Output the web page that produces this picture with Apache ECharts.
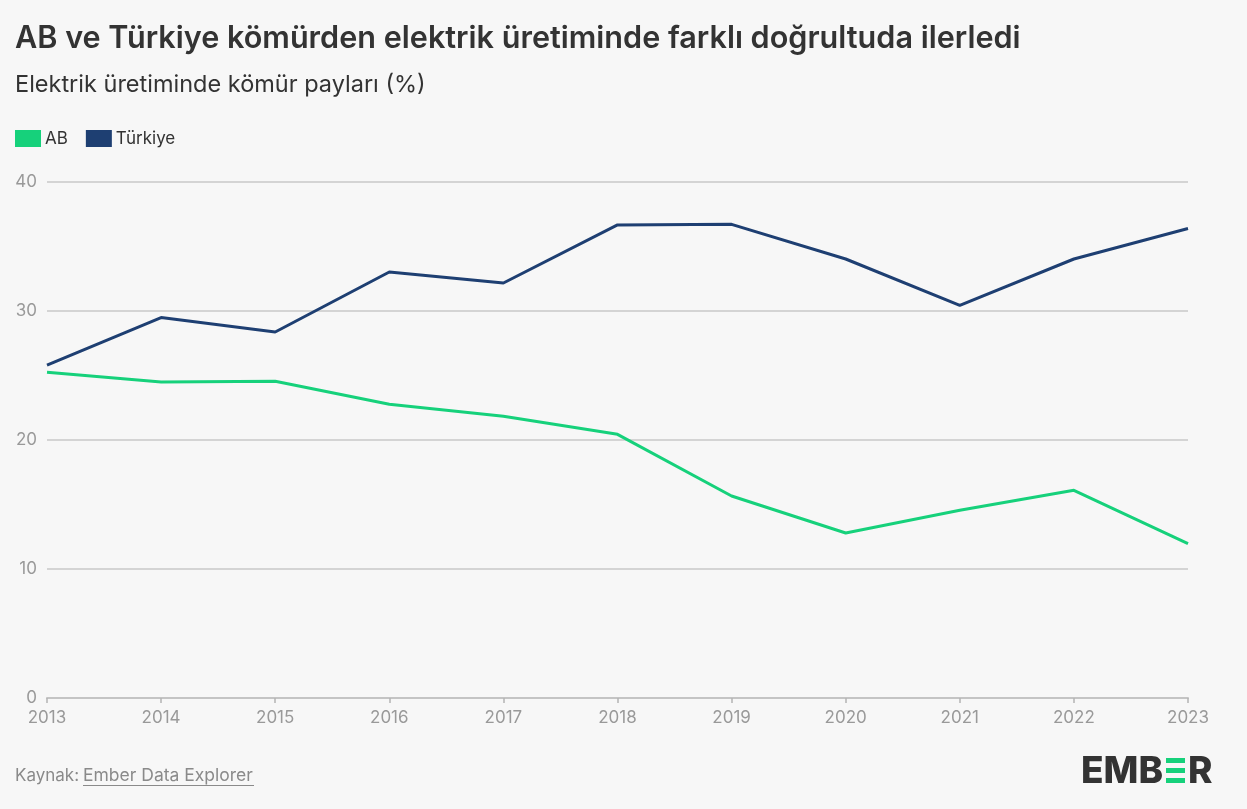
<!DOCTYPE html>
<html><head><meta charset="utf-8">
<script src="https://cdn.jsdelivr.net/npm/echarts@6/dist/echarts.min.js"></script>
<style>html,body{margin:0;padding:0;background:#f7f7f7}#c{width:1247px;height:809px}</style>
</head><body><div id="c"></div>
<script>
const years = ['2013','2014','2015','2016','2017','2018','2019','2020','2021','2022','2023'];
const abValues = [25.25, 24.5, 24.55, 22.77, 21.84, 20.44, 15.66, 12.79, 14.55, 16.1, 11.97];
const turkiyeValues = [25.8, 29.49, 28.37, 33.02, 32.17, 36.67, 36.72, 34.03, 30.44, 34.03, 36.39];
const yTicks = [0, 10, 20, 30, 40];

const FONT = 'Inter, "Noto Sans", sans-serif';
const chart = echarts.init(document.getElementById('c'));
chart.setOption({
  backgroundColor: '#f7f7f7',
  animation: false,
  title: [
    {text: 'AB ve Türkiye kömürden elektrik üretiminde farklı doğrultuda ilerledi', left: 10, top: 18,
     textStyle: {fontFamily: FONT, fontSize: 30.6, fontWeight: 600, color: '#333333'}},
    {text: 'Elektrik üretiminde kömür payları (%)', left: 10, top: 68,
     textStyle: {fontFamily: FONT, fontSize: 23.5, fontWeight: 400, color: '#333333'}}
  ],
  legend: {
    left: 10, top: 125, itemWidth: 26, itemHeight: 17, itemGap: 18, icon: 'rect',
    textStyle: {fontFamily: FONT, fontSize: 17, color: '#333333', padding: [0,0,0,-1]},
    data: ['AB', 'Türkiye']
  },
  grid: {left: 47, right: 59, top: 182, bottom: 111, containLabel: false},
  xAxis: {
    type: 'category', data: years, boundaryGap: false,
    axisLine: {lineStyle: {color: '#c4c4c4', width: 2}},
    axisTick: {show: true, length: 5, alignWithLabel: true, lineStyle: {color: '#b4b4b4', width: 1.5}},
    axisLabel: {fontFamily: FONT, fontSize: 17, color: '#999999', margin: 11}
  },
  yAxis: {
    type: 'value', min: yTicks[0], max: yTicks[yTicks.length-1], interval: 10,
    axisLine: {show: false}, axisTick: {show: false},
    axisLabel: {fontFamily: FONT, fontSize: 17, color: '#999999', margin: 10},
    splitLine: {lineStyle: {color: '#c8c8c8', width: 1.5}}
  },
  series: [
    {name: 'AB', type: 'line', data: abValues, symbol: 'none', color: '#16d17b',
     lineStyle: {width: 3, color: '#16d17b'}},
    {name: 'Türkiye', type: 'line', data: turkiyeValues, symbol: 'none', color: '#1e3f72',
     lineStyle: {width: 3, color: '#1e3f72'}}
  ],
  graphic: [
    {type: 'text', left: 15, top: 767, style: {text: 'Kaynak: ', fontFamily: FONT, fontSize: 17, fill: '#8a8a8a'}},
    {type: 'text', left: 83, top: 767, style: {text: 'Ember Data Explorer', fontFamily: FONT, fontSize: 17.5, fill: '#8a8a8a'}},
    {type: 'rect', shape: {x: 83, y: 785, width: 171, height: 1}, style: {fill: '#8a8a8a'}},
    {type: 'text', x: 1081, y: 753, style: {text: 'EMB', fontFamily: 'Inter, sans-serif', fontSize: 37, fontWeight: 800, fill: '#333333'}},
    {type: 'rect', shape: {x: 1166, y: 758, width: 19, height: 5}, style: {fill: '#16d17b'}},
    {type: 'rect', shape: {x: 1166, y: 768, width: 19, height: 5}, style: {fill: '#16d17b'}},
    {type: 'rect', shape: {x: 1166, y: 778, width: 19, height: 5}, style: {fill: '#16d17b'}},
    {type: 'text', x: 1188, y: 753, style: {text: 'R', fontFamily: 'Inter, sans-serif', fontSize: 37, fontWeight: 800, fill: '#333333'}}
  ]
});
</script></body></html>
